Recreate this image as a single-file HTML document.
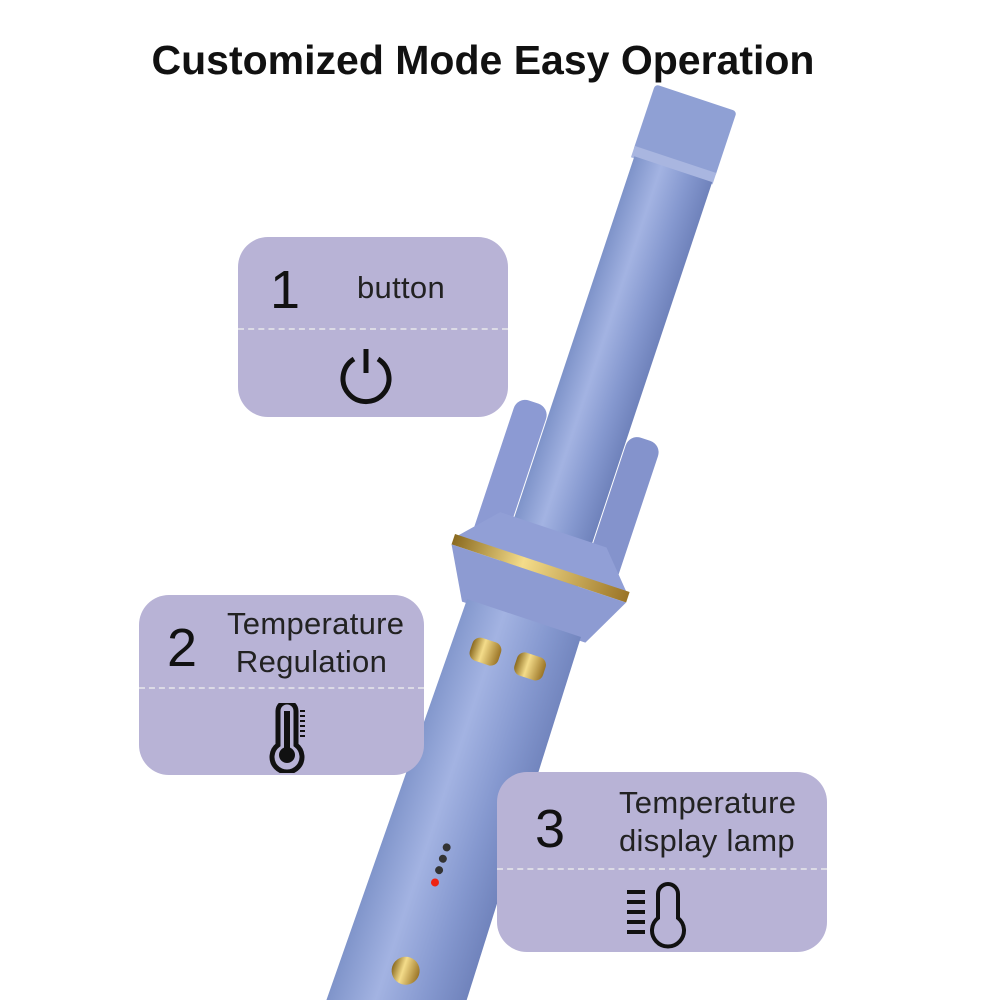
<!DOCTYPE html>
<html><head><style>
body{margin:0;width:1000px;height:1000px;background:#fff;overflow:hidden;position:relative;font-family:"Liberation Sans",sans-serif}
.t{position:absolute;left:0;width:966px;top:37px;text-align:center;font-weight:bold;font-size:41px;color:#111}
.box{position:absolute;background:#b8b3d6;border-radius:30px}
.box .l{position:absolute;left:0;right:0;height:0;border-top:2px dashed #dcdbe6}
.n{position:absolute;font-size:54px;font-weight:300;color:#111;line-height:1}
.tx{position:absolute;font-size:31px;color:#222;line-height:38px;letter-spacing:0.3px}
svg.ic{position:absolute}
</style></head><body>
<div class="t">Customized Mode Easy Operation</div>
<svg width="1000" height="1000" style="position:absolute;left:0;top:0">
<defs>
<linearGradient id="g" x1="0" x2="1">
<stop offset="0" stop-color="#7e93c9"/><stop offset="0.35" stop-color="#a3b3e2"/><stop offset="0.7" stop-color="#8598cf"/><stop offset="1" stop-color="#6f82bb"/></linearGradient>
<linearGradient id="gold" x1="0" x2="1"><stop offset="0" stop-color="#8a6a20"/><stop offset="0.4" stop-color="#f4dc8a"/><stop offset="1" stop-color="#9a7426"/></linearGradient>
</defs>
<g transform="translate(-10 12) rotate(18.4 546 570)">
<rect x="502" y="60" width="86" height="70" fill="#8fa0d4" rx="4"/>
<rect x="502" y="125" width="86" height="12" fill="#a9b6e0"/>
<rect x="505" y="135" width="82" height="430" fill="url(#g)"/>
<rect x="470" y="400" width="34" height="160" rx="12" fill="#8c9ad3"/>
<rect x="588" y="400" width="34" height="160" rx="12" fill="#8493cc"/>
<polygon points="490,515 602,515 636,552 456,552" fill="#919fd6"/>
<rect x="454" y="550" width="184" height="11" fill="url(#gold)"/>
<polygon points="454,561 638,561 612,612 482,612" fill="#8d9bd2"/>
<polygon points="486,608 606,608 614,1100 478,1100" fill="url(#g)"/>
<rect x="505" y="640" width="30" height="24" rx="8" fill="url(#gold)"/>
<rect x="552" y="640" width="30" height="24" rx="8" fill="url(#gold)"/>
<circle cx="545" cy="850" r="4" fill="#333"/><circle cx="545" cy="862" r="4" fill="#333"/><circle cx="545" cy="874" r="4" fill="#333"/><circle cx="545" cy="887" r="4" fill="#e21"/>
<circle cx="545" cy="980" r="14" fill="url(#gold)"/>
</g>
</svg>
<div class="box" style="left:238px;top:237px;width:270px;height:180px">
<div class="l" style="top:91px"></div>
<div class="n" style="left:32px;top:26px">1</div>
<div class="tx" style="left:119px;top:32px">button</div>
<svg class="ic" style="left:98px;top:108px" width="60" height="60"><path d="M18 14 A23 23 0 1 0 42 14" fill="none" stroke="#111" stroke-width="5"/><line x1="30" y1="4" x2="30" y2="28" stroke="#111" stroke-width="5"/></svg>
</div>
<div class="box" style="left:139px;top:595px;width:285px;height:180px">
<div class="l" style="top:92px"></div>
<div class="n" style="left:28px;top:26px">2</div>
<div class="tx" style="left:88px;top:10px">Temperature<br>&nbsp;Regulation</div>
<svg class="ic" style="left:130px;top:108px" width="50" height="70"><path d="M9 8 a9 9 0 0 1 18 0 v34 a15 15 0 1 1 -18 0z" fill="none" stroke="#111" stroke-width="5"/><rect x="15" y="8" width="6" height="40" fill="#111"/><circle cx="18" cy="52" r="8" fill="#111"/><g stroke="#111" stroke-width="2"><line x1="31" y1="8" x2="36" y2="8"/><line x1="31" y1="13" x2="36" y2="13"/><line x1="31" y1="18" x2="36" y2="18"/><line x1="31" y1="23" x2="36" y2="23"/><line x1="31" y1="28" x2="36" y2="28"/><line x1="31" y1="33" x2="36" y2="33"/></g></svg>
</div>
<div class="box" style="left:497px;top:772px;width:330px;height:180px">
<div class="l" style="top:96px"></div>
<div class="n" style="left:38px;top:30px">3</div>
<div class="tx" style="left:122px;top:12px">Temperature<br>display lamp</div>
<svg class="ic" style="left:128px;top:108px" width="70" height="70"><g stroke="#111" stroke-width="4"><line x1="2" y1="12" x2="20" y2="12"/><line x1="2" y1="22" x2="20" y2="22"/><line x1="2" y1="32" x2="20" y2="32"/><line x1="2" y1="42" x2="20" y2="42"/><line x1="2" y1="52" x2="20" y2="52"/></g><path d="M33 14 a10 10 0 0 1 20 0 v24 a16 16 0 1 1 -20 0z" fill="none" stroke="#111" stroke-width="4"/></svg>
</div>
</body></html>
